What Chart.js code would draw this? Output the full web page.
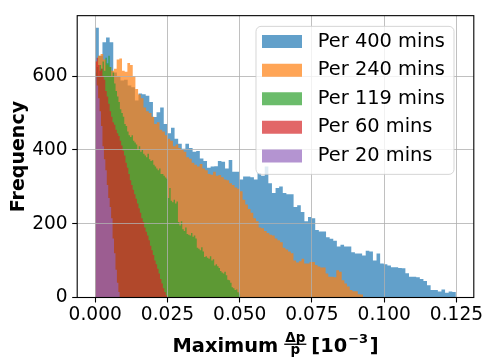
<!DOCTYPE html>
<html><head><meta charset="utf-8">
<script src="https://cdn.jsdelivr.net/npm/chart.js@4.4.0/dist/chart.umd.min.js"></script>
<style>html,body{margin:0;padding:0;background:#fff;overflow:hidden}</style>
</head><body>
<canvas id="c" width="486" height="358" style="display:block;width:486px;height:358px"></canvas>
<script>
// ---------------- data ----------------
const seriesLabels = ['Per 400 mins', 'Per 240 mins', 'Per 119 mins', 'Per 60 mins', 'Per 20 mins'];
// upper end of each histogram's value range (lower end is 0)
const rangeMax = [0.1248, 0.0927, 0.0502, 0.0249, 0.0085];
const xTickValues = [0, 0.025, 0.05, 0.075, 0.1, 0.125];
const yTickValues = [0, 200, 400, 600];

const counts400 = [731,655,692,705,692,610,600,588,590,575,570,534,553,551,547,530,489,502,515,470,
  445,460,430,417,403,417,405,395,397,377,370,352,355,356,370,368,350,373,341,341,
  320,328,328,326,320,337,330,355,310,283,297,301,283,280,280,245,250,232,207,218,
  215,183,179,179,163,159,154,138,143,138,138,123,119,119,114,127,125,100,119,92,
  90,87,82,82,80,79,66,56,56,55,50,45,33,20,20,16,22,13,16,15];
const counts240 = [640,655,660,645,630,625,615,620,645,648,615,612,636,630,600,565,550,540,515,505,
  500,490,470,475,455,450,440,430,425,410,415,405,400,395,380,376,365,360,355,362,
  350,345,335,333,341,330,332,326,320,318,310,305,298,295,288,265,252,240,230,215,
  207,190,188,180,175,170,168,160,155,150,135,130,125,120,100,95,98,105,92,92,
  96,96,88,84,81,81,65,56,56,55,74,70,47,38,30,20,17,17,9,8];
const counts119 = [610,625,600,630,620,640,615,650,635,655,625,600,610,580,560,545,530,510,500,490,
  470,465,450,440,435,440,425,420,415,400,410,395,400,390,385,380,390,375,370,372,
  360,355,350,345,350,335,335,330,325,322,270,297,262,258,265,255,260,205,195,207,
  185,180,190,172,170,168,175,165,168,160,135,132,128,136,125,110,112,108,105,112,
  100,104,87,90,85,80,72,68,65,70,60,48,47,40,28,25,20,22,14,10];
const counts60 = [640,650,630,615,620,600,590,560,545,525,505,490,475,468,455,445,438,425,412,398,
  385,365,352,335,318,305,292,280,268,255,242,230,215,205,190,178,168,155,140,128,
  115,100,90,78,65,50,38,25,15,6];
const counts20 = [600,575,540,505,465,410,375,345,305,270,245,215,160,120,75,40,15];

const seriesCounts = [counts400, counts240, counts119, counts60, counts20];
const seriesColors = ['rgba(31,119,180,0.7)', 'rgba(255,127,14,0.7)', 'rgba(44,160,44,0.7)',
                      'rgba(214,39,40,0.7)', 'rgba(148,103,189,0.7)'];

// x-axis title pieces (mathtext "Maximum \frac{Δp}{p} [10^{-3}]")
const xTitleMain = 'Maximum';
const xTitleNum = 'Δp';
const xTitleDen = 'p';
const xTitleUnitOpen = '[10';
const xTitleExp = '−3';
const xTitleUnitClose = ']';
const yTitle = 'Frequency';

// ---------------- helpers ----------------
function histPoints(counts, maxVal) {
  const n = counts.length, w = maxVal / n;
  const pts = counts.map((c, i) => ({x: i * w, y: c}));
  pts.push({x: maxVal, y: counts[n - 1]});
  return pts;
}

// draw order: Per 400 at the bottom ... Per 20 on top  (Chart.js paints last dataset first)
const datasets = [];
for (let k = seriesLabels.length - 1; k >= 0; k--) {
  datasets.push({
    label: seriesLabels[k],
    data: histPoints(seriesCounts[k], rangeMax[k]),
    stepped: true,
    fill: 'origin',
    backgroundColor: seriesColors[k],
    borderColor: 'rgba(0,0,0,0)',
    borderWidth: 0,
    pointRadius: 0,
    pointHoverRadius: 0,
    tension: 0
  });
}

const FONT = "'DejaVu Sans', 'Liberation Sans', sans-serif";

const mplLegend = {
  id: 'mplLegend',
  beforeLayout(chart) {
    const lg = chart.legend;
    if (lg && !lg._mplPatched) {
      lg._mplPatched = true;
      lg._layers = function () {
        return [{z: 5, draw(area) {
          const a = chart.chartArea, ctx = chart.ctx;
          const L = a.right - 217.8, R = a.right - 19.8, T = a.top + 10.7, B = a.top + 158.7, r = 5;
          ctx.save();
          ctx.beginPath();
          ctx.moveTo(L + r, T);
          ctx.arcTo(R, T, R, B, r);
          ctx.arcTo(R, B, L, B, r);
          ctx.arcTo(L, B, L, T, r);
          ctx.arcTo(L, T, R, T, r);
          ctx.closePath();
          ctx.fillStyle = 'rgba(255,255,255,0.8)';
          ctx.fill();
          ctx.lineWidth = 1;
          ctx.strokeStyle = 'rgba(204,204,204,0.8)';
          ctx.stroke();
          ctx.restore();
          lg.draw(area);
        }}];
      };
    }
  },
  afterLayout(chart) {
    const lg = chart.legend, a = chart.chartArea;
    if (!lg) return;
    lg.left = a.right - 221;
    lg.right = a.right - 15;
    lg.top = a.top + 7;
    lg.bottom = a.top + 168;
    lg.width = lg.right - lg.left;
    lg.height = lg.bottom - lg.top;
  }
};

const frameAndTitle = {
  id: 'frameAndTitle',
  afterDraw(chart) {
    const ctx = chart.ctx, a = chart.chartArea;
    ctx.save();
    // spines
    ctx.strokeStyle = '#000';
    ctx.lineWidth = 1.1;
    ctx.strokeRect(a.left, a.top, a.right - a.left, a.bottom - a.top);

    // x-axis title
    ctx.fillStyle = '#000';
    ctx.textBaseline = 'alphabetic';
    ctx.textAlign = 'left';
    const fMain = 'bold 19.4px ' + FONT, fFrac = 'bold 13.5px ' + FONT, fExp = 'bold 13px ' + FONT;
    ctx.font = fMain;
    const wMain = ctx.measureText(xTitleMain).width;
    const wOpen = ctx.measureText(xTitleUnitOpen).width;
    const wClose = ctx.measureText(xTitleUnitClose).width;
    ctx.font = fFrac;
    const wNum = ctx.measureText(xTitleNum).width;
    const wDen = ctx.measureText(xTitleDen).width;
    const wFrac = Math.max(wNum, wDen) + 2;
    ctx.font = fExp;
    const wExp = ctx.measureText(xTitleExp).width;
    const g1 = 6, g2 = 5, g3 = 1, g4 = 1.5;
    const total = wMain + g1 + wFrac + g2 + wOpen + g3 + wExp + g4 + wClose;
    let x = (a.left + a.right) / 2 - total / 2;
    const base = 352;
    ctx.font = fMain;
    ctx.fillText(xTitleMain, x, base);
    x += wMain + g1;
    ctx.font = fFrac;
    ctx.fillText(xTitleNum, x + (wFrac - wNum) / 2, 341.5);
    ctx.fillText(xTitleDen, x + (wFrac - wDen) / 2, 354);
    ctx.fillRect(x, 343.6, wFrac, 1.3);
    x += wFrac + g2;
    ctx.font = fMain;
    ctx.fillText(xTitleUnitOpen, x, base);
    x += wOpen + g3;
    ctx.font = fExp;
    ctx.fillText(xTitleExp, x, 342.5);
    x += wExp + g4;
    ctx.font = fMain;
    ctx.fillText(xTitleUnitClose, x, base);
    ctx.restore();
  }
};

new Chart(document.getElementById('c'), {
  type: 'line',
  data: {datasets},
  plugins: [mplLegend, frameAndTitle],
  options: {
    responsive: false,
    animation: false,
    devicePixelRatio: 1,
    layout: {padding: {top: 12, right: 12.2, left: 0, bottom: 0}},
    interaction: {mode: null},
    plugins: {
      tooltip: {enabled: false},
      legend: {
        position: 'chartArea',
        align: 'start',
        labels: {
          font: {family: FONT, size: 19.4},
          color: '#000',
          boxWidth: 40,
          boxHeight: 13,
          padding: 9.2,
          generateLabels(chart) {
            return chart.data.datasets.map((ds, i) => ({
              text: ' ' + ds.label,
              fillStyle: ds.backgroundColor,
              strokeStyle: 'rgba(0,0,0,0)',
              lineWidth: 0,
              hidden: false,
              datasetIndex: i
            })).reverse();
          }
        }
      }
    },
    scales: {
      x: {
        type: 'linear',
        min: -0.00624,
        max: 0.1310,
        afterFit(s) { s.height = 60.5; },
        afterBuildTicks(s) { s.ticks = xTickValues.map(v => ({value: v})); },
        grid: {color: '#b0b0b0', lineWidth: 0.8, z: 1, tickColor: '#000', tickLength: 5, tickWidth: 1.1, drawTicks: true},
        border: {display: false},
        ticks: {
          autoSkip: false, maxRotation: 0, padding: 2, color: '#000',
          font: {family: FONT, size: 18.6},
          callback: v => Number(v).toFixed(3)
        },
        title: {display: false}
      },
      y: {
        type: 'linear',
        min: 0,
        max: 764,
        afterFit(s) { s.width = 77.2; },
        afterBuildTicks(s) { s.ticks = yTickValues.map(v => ({value: v})); },
        grid: {color: '#b0b0b0', lineWidth: 0.8, z: 1, tickColor: '#000', tickLength: 5, tickWidth: 1.1, drawTicks: true},
        border: {display: false},
        ticks: {
          autoSkip: false, padding: 4.5, color: '#000',
          font: {family: FONT, size: 18.6},
          callback: v => String(v)
        },
        title: {
          display: true, text: yTitle, color: '#000',
          font: {family: FONT, size: 19, weight: 'bold'},
          padding: {top: 8, bottom: 0}
        }
      }
    }
  }
});
</script>
</body></html>
